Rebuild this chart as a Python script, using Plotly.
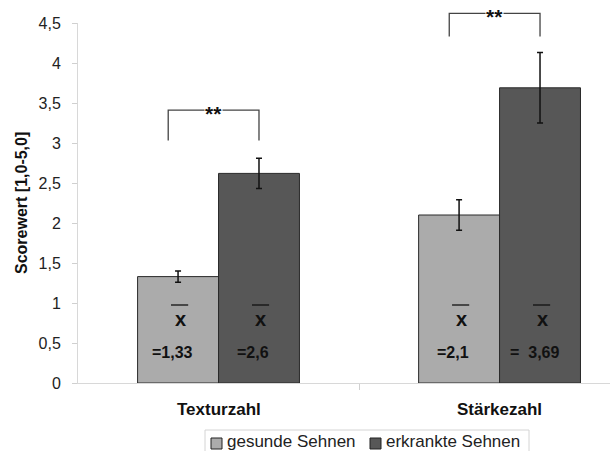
import plotly.graph_objects as go

categories = ["Texturzahl", "Stärkezahl"]
series_names = ["gesunde Sehnen", "erkrankte Sehnen"]
series_colors = ["#ababab", "#575757"]
gesund = [1.33, 2.1]
gesund_err = [0.07, 0.19]
erkrankt = [2.62, 3.69]
erkrankt_err = [0.19, 0.44]
mean_labels_g = ["=1,33", "=2,1"]
mean_labels_e = ["=2,6", "=  3,69"]
y_ticks = [0, 0.5, 1, 1.5, 2, 2.5, 3, 3.5, 4, 4.5]
y_ticklabels = ["0", "0,5", "1", "1,5", "2", "2,5", "3", "3,5", "4", "4,5"]
sig_labels = ["**", "**"]
bracket_low = [3.03, 4.33]
bracket_high = [3.41, 4.62]

FONT = "Liberation Sans, Arial, sans-serif"
W, H = 610, 451
ML, MT, MB = 78, 23, 68
PW, PH = W - ML, H - MT - MB
BARGAP = 0.424
XMIN, XMAX = -0.5, 1.393
YMAX = 4.5
bw = (1 - BARGAP) / 2
xs = list(range(len(categories)))

def xp(x):
    return (x - XMIN) / (XMAX - XMIN)

def yp(y):
    return y / YMAX

def px2x(px):
    return (px - ML) / PW

def px2y(py):
    return (H - MB - py) / PH

fig = go.Figure()
fig.add_trace(go.Bar(
    x=xs, y=gesund, name=series_names[0], showlegend=False,
    marker=dict(color=series_colors[0], line=dict(color="#2a2a2a", width=1)),
    error_y=dict(type="data", array=gesund_err, color="#111", thickness=1.5, width=3),
))
fig.add_trace(go.Bar(
    x=xs, y=erkrankt, name=series_names[1], showlegend=False,
    marker=dict(color=series_colors[1], line=dict(color="#2a2a2a", width=1)),
    error_y=dict(type="data", array=erkrankt_err, color="#111", thickness=1.5, width=3),
))

shapes = []
annotations = []

def ann(**kw):
    kw.setdefault("showarrow", False)
    kw.setdefault("xanchor", "center")
    kw.setdefault("yanchor", "middle")
    annotations.append(kw)

for i, c in enumerate(categories):
    cg = i - bw / 2
    ce = i + bw / 2
    ann(x=i, y=px2y(409), xref="x", yref="paper", text="<b>%s</b>" % c,
        font=dict(family=FONT, size=17, color="#111"))
    for cx, lab in ((cg, mean_labels_g[i]), (ce, mean_labels_e[i])):
        ann(x=cx, y=0.80, xref="x", yref="y", text="<b>x</b>", xshift=2,
            font=dict(family=FONT, size=20, color="#111"))
        shapes.append(dict(type="line", xref="x", yref="y", x0=cx - 0.025, x1=cx + 0.036,
                           y0=0.975, y1=0.975, line=dict(color="#111", width=1.3)))
        ann(x=cx, y=0.38, xref="x", yref="y", text="<b>%s</b>" % lab, xshift=-6,
            font=dict(family=FONT, size=16, color="#111"))
    xl = xp(cg - 0.035)
    xr = xp(ce)
    lo = yp(bracket_low[i])
    hi = yp(bracket_high[i])
    shapes.append(dict(type="path", xref="paper", yref="paper",
                       path="M %f %f L %f %f L %f %f L %f %f" % (xl, lo, xl, hi, xr, hi, xr, lo),
                       line=dict(color="#444", width=1.3)))
    ann(x=(xl + xr) / 2, y=hi, xref="paper", yref="paper",
        text="<b>%s</b>" % sig_labels[i], yshift=-3, bgcolor="white", borderpad=0,
        font=dict(family=FONT, size=21, color="#111"))

ann(x=px2x(21), y=0.5, xref="paper", yref="paper", textangle=-90,
    text="<b>Scorewert [1,0-5,0]</b>", font=dict(family=FONT, size=16, color="#111"))

# custom legend (cropped at the bottom edge like the reference)
shapes.append(dict(type="rect", xref="paper", yref="paper", x0=px2x(205), x1=px2x(529),
                   y0=px2y(470), y1=px2y(430), line=dict(color="#d4d4d4", width=1),
                   fillcolor="white", layer="below"))
leg_sq = [211, 370]
for k, name in enumerate(series_names):
    shapes.append(dict(type="rect", xref="paper", yref="paper", x0=px2x(leg_sq[k]),
                       x1=px2x(leg_sq[k] + 11), y0=px2y(449), y1=px2y(438),
                       line=dict(color="#222", width=1), fillcolor=series_colors[k]))
    ann(x=px2x(leg_sq[k] + 14), y=px2y(441), xref="paper", yref="paper",
        xanchor="left", text=name, font=dict(family=FONT, size=17, color="#222"))

fig.update_layout(
    width=W, height=H,
    margin=dict(l=ML, r=0, t=MT, b=MB),
    paper_bgcolor="white", plot_bgcolor="white",
    barmode="group", bargap=BARGAP, bargroupgap=0,
    font=dict(family=FONT, size=16, color="#222"),
    showlegend=False,
    shapes=shapes, annotations=annotations,
    xaxis=dict(range=[XMIN, XMAX], tickvals=[0.5], ticktext=[""], ticks="outside",
               ticklen=6, tickcolor="#d0d0d0", showline=True, linecolor="#d8d8d8",
               showgrid=False, zeroline=False, fixedrange=True),
    yaxis=dict(range=[0, YMAX], tickvals=y_ticks, ticktext=y_ticklabels, ticks="outside",
               ticklen=5, tickcolor="#d0d0d0", showline=True, linecolor="#d8d8d8",
               showgrid=False, zeroline=False, ticklabelstandoff=8,
               tickfont=dict(family=FONT, size=16, color="#222")),
)

fig.write_html("out.html", config={"displayModeBar": False},
               post_script="document.body.style.margin='0';document.body.style.overflow='hidden';")
